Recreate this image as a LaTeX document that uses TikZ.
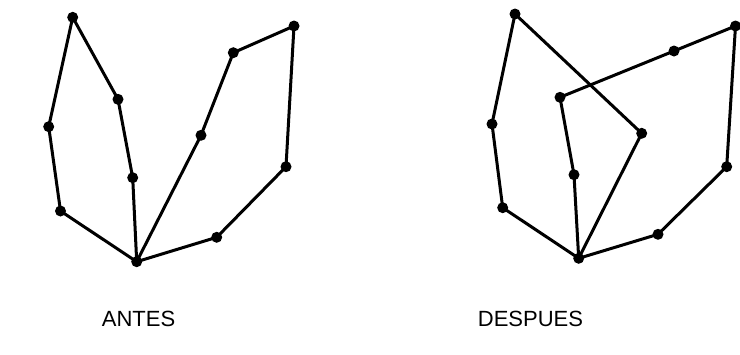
\documentclass[tikz,border=0pt]{standalone}
\usepackage{fontspec}
\setmainfont{Liberation Sans}
\tikzset{
    dot/.style={circle, fill=black, inner sep=0pt, minimum size=11pt},
    edge/.style={line width=3pt, line join=round},
    caption/.style={font=\fontsize{22}{26}\selectfont}
}
\begin{document}
\begin{tikzpicture}[x=1pt, y=-1pt]
        \useasboundingbox (0,0) rectangle (740,354);

        % Antes
        \node[dot] (a1) at (72.7,17.3) {};
        \node[dot] (a2) at (118,99.3) {};
        \node[dot] (a3) at (48.7,126.7) {};
        \node[dot] (a4) at (132.7,177.7) {};
        \node[dot] (a5) at (60.5,211) {};
        \node[dot] (a6) at (136.7,261.7) {};
        \node[dot] (a7) at (201,135.3) {};
        \node[dot] (a8) at (233.3,52.7) {};
        \node[dot] (a9) at (294,26) {};
        \node[dot] (a10) at (286,166.7) {};
        \node[dot] (a11) at (216.7,237.3) {};

        \draw[edge] (a1.center) -- (a3.center) -- (a5.center) -- (a6.center);
        \draw[edge] (a1.center) -- (a2.center) -- (a4.center) -- (a6.center);
        \draw[edge] (a6.center) -- (a7.center) -- (a8.center) -- (a9.center)
            -- (a10.center) -- (a11.center) -- (a6.center);

        % Despues
        \node[dot] (d1) at (515,14) {};
        \node[dot] (d2) at (560,97.3) {};
        \node[dot] (d3) at (492,124) {};
        \node[dot] (d4) at (574,174.7) {};
        \node[dot] (d5) at (502.7,207.7) {};
        \node[dot] (d6) at (578.7,258.3) {};
        \node[dot] (d7) at (641.7,133.3) {};
        \node[dot] (d8) at (674,51) {};
        \node[dot] (d9) at (735.5,26) {};
        \node[dot] (d10) at (726.7,166.7) {};
        \node[dot] (d11) at (658,234.3) {};

        \draw[edge] (d1.center) -- (d3.center) -- (d5.center) -- (d6.center);
        \draw[edge] (d1.center) -- (d7.center) -- (d6.center);
        \draw[edge] (d6.center) -- (d4.center) -- (d2.center) -- (d8.center)
            -- (d9.center) -- (d10.center) -- (d11.center) -- (d6.center);

        % labels
        \node[caption] (antes) at (138.5,318.5) {ANTES};
        \node[caption] (despues) at (530.5,318.5) {DESPUES};
    \end{tikzpicture}
\end{document}
